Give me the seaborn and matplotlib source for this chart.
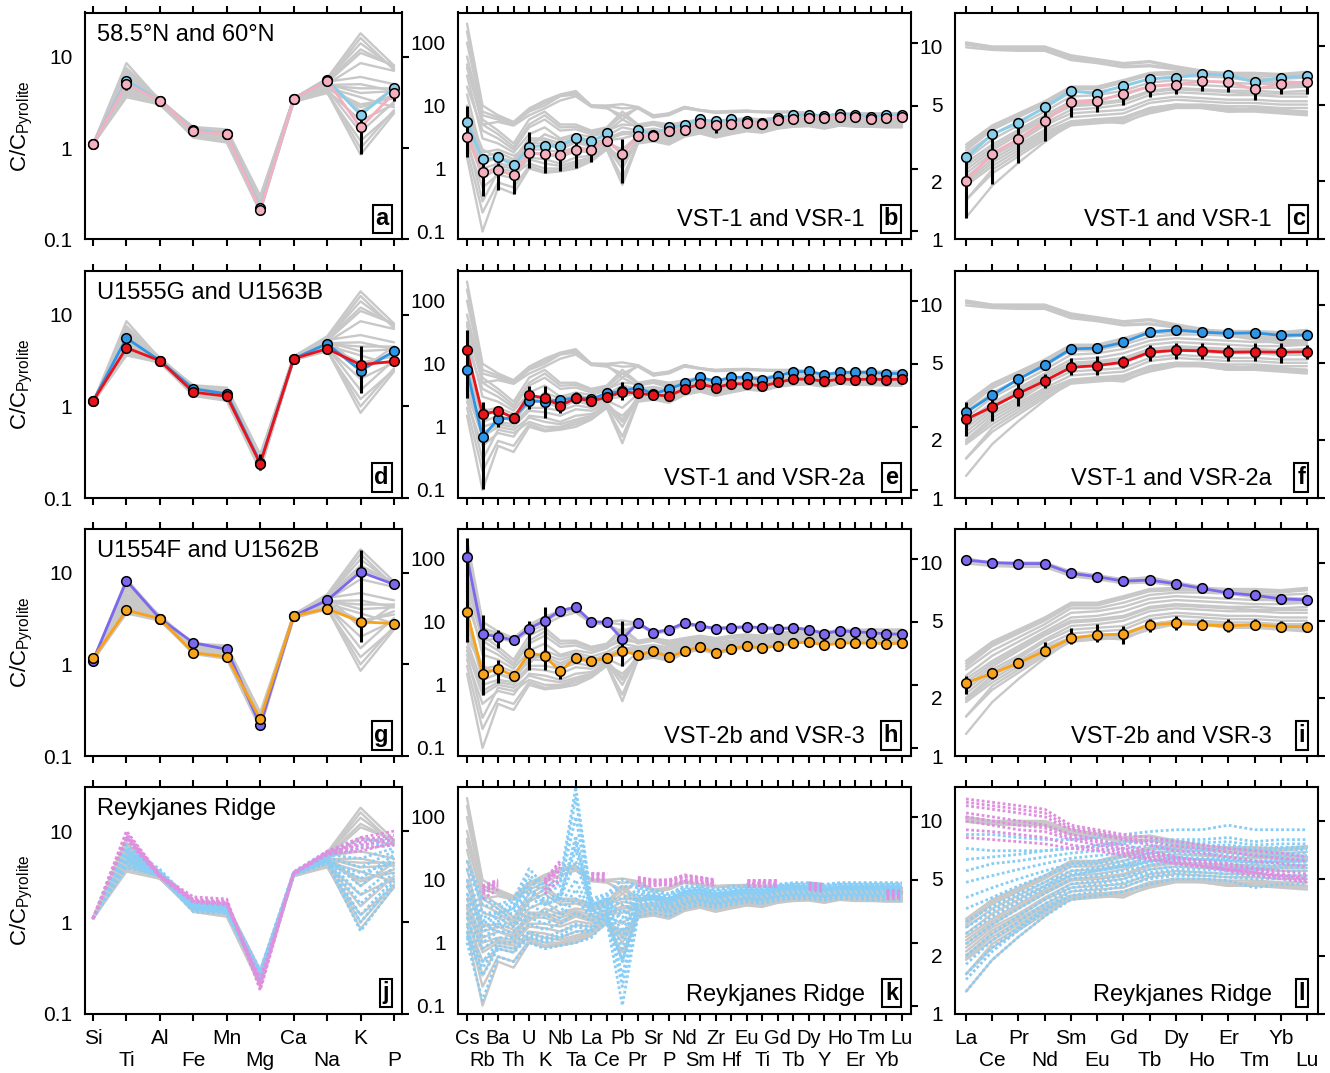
import numpy as np
import pandas as pd
import matplotlib
matplotlib.use("Agg")
import matplotlib.pyplot as plt
import seaborn as sns
from matplotlib.ticker import FixedLocator, NullLocator, FixedFormatter

# ---------------- categories ----------------
MAJOR = ["Si", "Ti", "Al", "Fe", "Mn", "Mg", "Ca", "Na", "K", "P"]
TRACE = ["Cs", "Rb", "Ba", "Th", "U", "K", "Nb", "Ta", "La", "Ce", "Pb", "Pr", "Sr", "P",
         "Nd", "Sm", "Zr", "Hf", "Eu", "Ti", "Gd", "Tb", "Dy", "Y", "Ho", "Er", "Tm", "Yb", "Lu"]
REE = ["La", "Ce", "Pr", "Nd", "Sm", "Eu", "Gd", "Tb", "Dy", "Ho", "Er", "Tm", "Yb", "Lu"]
N = np.nan

# ---------------- grey background (model compositions) ----------------
grey_major = [
    [1.1, 8.5, 3.3, 1.70, 1.60, 0.30, 3.5, 5.8, 18.0, 8.0],
    [1.1, 7.5, 3.4, 1.65, 1.55, 0.28, 3.5, 5.5, 14.0, 7.5],
    [1.1, 6.5, 3.3, 1.60, 1.50, 0.26, 3.4, 5.2, 11.0, 8.0],
    [1.1, 5.8, 3.2, 1.55, 1.45, 0.25, 3.4, 5.0, 8.5, 7.0],
    [1.1, 5.0, 3.2, 1.50, 1.40, 0.24, 3.3, 4.8, 4.5, 4.5],
    [1.1, 4.5, 3.1, 1.45, 1.35, 0.23, 3.3, 4.5, 3.0, 3.5],
    [1.1, 4.0, 3.0, 1.40, 1.30, 0.22, 3.3, 4.3, 2.0, 3.0],
    [1.1, 3.6, 3.0, 1.35, 1.20, 0.21, 3.2, 4.0, 1.2, 2.5],
    [1.1, 3.8, 3.1, 1.30, 1.15, 0.20, 3.2, 4.1, 0.85, 2.4],
    [1.1, 5.5, 3.3, 1.50, 1.40, 0.22, 3.4, 5.6, 2.5, 4.5],
    [1.1, 4.8, 3.2, 1.40, 1.30, 0.24, 3.4, 4.6, 3.6, 2.8],
    [1.1, 6.0, 3.3, 1.55, 1.45, 0.27, 3.5, 5.3, 6.0, 5.0],
    [1.1, 4.2, 3.1, 1.35, 1.25, 0.21, 3.3, 4.4, 1.5, 3.2],
    [1.1, 7.0, 3.4, 1.60, 1.50, 0.27, 3.5, 5.4, 12.0, 7.8],
    [1.1, 5.2, 3.2, 1.50, 1.40, 0.24, 3.4, 4.9, 5.0, 4.2],
    [1.1, 4.4, 3.1, 1.45, 1.35, 0.22, 3.3, 4.5, 2.8, 3.8],
    [1.1, 3.9, 3.0, 1.35, 1.20, 0.21, 3.2, 4.2, 1.0, 2.6],
    [1.1, 5.3, 3.3, 1.50, 1.45, 0.25, 3.4, 5.0, 4.0, 4.2],
    [1.1, 6.8, 3.3, 1.60, 1.50, 0.28, 3.5, 5.5, 16.0, 7.2],
]
grey_trace = [
    [200, 10, 7, 5.5, 9, 12, 15, 17, 10, 10, 10.5, 9.5, 7, 7.5, 9.5, 8.5, 8, 8.2, 8.3, 8, 8, 8, 7.6, 6.6, 7.2, 7, 6.9, 6.5, 6.5],
    [100, 7, 6, 5, 8, 10, 14, 15, 10, 9.5, 6, 9.5, 6.5, 7.5, 9.5, 8.5, 7.8, 8, 8.2, 8, 7.8, 8, 7.5, 6.5, 7.2, 6.9, 6.8, 6.4, 6.3],
    [40, 5, 5.5, 4.8, 7, 9, 12, 14, 9.5, 9, 7, 9, 6.5, 7, 9, 8.3, 7.6, 7.8, 8, 7.8, 7.7, 7.8, 7.4, 6.4, 7, 6.8, 6.7, 6.3, 6.2],
    [150, 8, 6.5, 5.2, 8.5, 11, 14.5, 16, 10, 9.8, 9, 9.2, 6.8, 7.3, 9.3, 8.4, 7.9, 8.1, 8.2, 7.9, 7.9, 7.9, 7.5, 6.5, 7.1, 6.9, 6.8, 6.4, 6.4],
    [30, 3, 2.5, 1.8, 3.5, 4.5, 3, 3.5, 3.2, 3.8, 6, 4.5, 5, 4.2, 5, 5.5, 5, 5.5, 5.8, 5.5, 6.2, 6.8, 7, 6.5, 7.2, 7.2, 7.3, 7.3, 7.3],
    [15, 1.5, 1.8, 1.4, 3.0, 3.0, 2.5, 3.0, 2.5, 3.0, 3.8, 3.8, 4.0, 3.6, 4.5, 5.0, 4.5, 4.8, 5.2, 5.0, 5.5, 6.0, 6.2, 5.8, 6.3, 6.3, 6.2, 6.3, 6.3],
    [5, 1.0, 1.2, 1.1, 2.0, 2.0, 1.8, 2.2, 2.0, 2.6, 2.0, 3.3, 3.4, 3.2, 4.0, 4.6, 4.2, 4.5, 4.8, 4.7, 5.2, 5.6, 5.8, 5.5, 6.0, 5.9, 5.9, 5.9, 5.9],
    [2.5, 0.5, 0.8, 0.7, 1.5, 1.4, 1.2, 1.5, 1.6, 2.2, 1.0, 2.8, 3.0, 2.8, 3.6, 4.2, 3.8, 4.0, 4.4, 4.3, 4.8, 5.2, 5.3, 5.0, 5.4, 5.3, 5.3, 5.2, 5.2],
    [1.5, 0.1, 0.5, 0.4, 1.0, 0.85, 0.9, 1.0, 1.3, 2.0, 0.55, 2.5, 2.7, 2.4, 3.2, 3.6, 3.1, 3.5, 3.9, 3.7, 4.3, 4.6, 4.7, 4.3, 4.8, 4.6, 4.6, 4.5, 4.5],
    [60, 6, 4, 2.5, 6, 8, 5, 5, 4, 4.5, 8, 5, 5.5, 5, 5.5, 6, 5.5, 6, 6.3, 6, 6.5, 7, 7.2, 6.8, 7.4, 7.4, 7.5, 7.4, 7.4],
    [8, 2, 1.5, 1.2, 2.5, 2.5, 2.0, 2.6, 2.2, 2.8, 3.0, 3.5, 3.8, 3.4, 4.2, 4.8, 4.3, 4.6, 5.0, 4.8, 5.3, 5.8, 6.0, 5.6, 6.1, 6.1, 6.0, 6.0, 6.0],
    [3, 0.3, 0.9, 0.8, 1.2, 1.0, 1.0, 1.2, 1.4, 2.1, 1.5, 2.6, 2.8, 2.6, 3.4, 3.9, 3.4, 3.8, 4.1, 4.0, 4.5, 4.9, 5.0, 4.6, 5.1, 5.0, 4.9, 4.8, 4.8],
    [20, 4, 3, 2, 4.5, 6, 4, 4.2, 3.5, 4, 5, 4.8, 5, 4.5, 5.2, 5.7, 5.2, 5.6, 6.0, 5.7, 6.4, 7.0, 7.2, 6.6, 7.3, 7.3, 7.4, 7.4, 7.4],
    [10, 1.2, 1.5, 1.3, 2.8, 2.8, 2.2, 2.8, 2.3, 2.9, 3.5, 3.6, 3.9, 3.5, 4.4, 4.9, 4.4, 4.7, 5.1, 4.9, 5.4, 5.9, 6.1, 5.7, 6.2, 6.2, 6.1, 6.2, 6.2],
    [4, 0.8, 1.1, 1.0, 1.8, 1.7, 1.5, 1.9, 1.8, 2.4, 1.3, 3.0, 3.2, 3.0, 3.8, 4.4, 4.0, 4.2, 4.6, 4.5, 5.0, 5.4, 5.5, 5.2, 5.7, 5.6, 5.6, 5.5, 5.5],
    [2, 0.2, 0.6, 0.5, 1.1, 0.9, 0.95, 1.1, 1.35, 2.05, 0.7, 2.55, 2.75, 2.5, 3.3, 3.7, 3.2, 3.6, 4.0, 3.8, 4.4, 4.7, 4.8, 4.4, 4.9, 4.8, 4.7, 4.6, 4.6],
    [45, 5, 3.5, 2.2, 5, 7, 4.5, 4.6, 3.8, 4.2, 7, 4.9, 5.2, 4.8, 5.4, 5.9, 5.4, 5.8, 6.2, 5.9, 6.5, 7.1, 7.3, 6.7, 7.4, 7.4, 7.5, 7.5, 7.5],
    [6, 1.8, 2.0, 1.6, 2.2, 3.5, 2.8, 3.2, 2.8, 3.3, 4.5, 4.0, 4.3, 3.9, 4.7, 5.2, 4.7, 5.0, 5.4, 5.2, 5.8, 6.4, 6.6, 6.1, 6.7, 6.7, 6.6, 6.7, 6.7],
    [3.5, 0.7, 1.0, 0.9, 1.4, 1.2, 1.1, 1.3, 1.5, 2.3, 1.2, 2.7, 2.9, 2.7, 3.5, 4.0, 3.5, 3.9, 4.2, 4.1, 4.6, 5.0, 5.1, 4.8, 5.2, 5.1, 5.1, 5.0, 5.0],
]
grey_ree = [
    [10.5, 10.0, 10.0, 10.0, 9.0, 8.6, 8.2, 8.4, 7.9, 7.5, 7.1, 6.9, 6.6, 6.5],
    [10.4, 9.9, 9.8, 9.9, 8.8, 8.5, 8.1, 8.3, 7.8, 7.4, 7.0, 6.8, 6.5, 6.4],
    [10.2, 9.8, 9.7, 9.7, 8.7, 8.3, 7.9, 8.0, 7.7, 7.3, 7.0, 6.8, 6.4, 6.3],
    [9.9, 9.6, 9.5, 9.5, 8.5, 8.2, 7.8, 7.9, 7.6, 7.2, 6.9, 6.6, 6.3, 6.2],
    [3.1, 3.9, 4.5, 5.2, 6.2, 6.2, 6.7, 7.3, 7.4, 7.4, 7.3, 7.3, 7.2, 7.4],
    [3.0, 3.8, 4.4, 5.1, 6.1, 6.1, 6.6, 7.2, 7.3, 7.3, 7.2, 7.2, 7.1, 7.3],
    [2.9, 3.7, 4.3, 5.0, 6.0, 6.0, 6.5, 7.1, 7.2, 7.2, 7.1, 7.0, 7.0, 7.2],
    [2.8, 3.5, 4.1, 4.8, 5.8, 5.8, 6.2, 6.8, 7.0, 7.0, 6.9, 6.8, 6.8, 6.9],
    [2.6, 3.3, 3.9, 4.6, 5.5, 5.6, 5.9, 6.5, 6.7, 6.6, 6.5, 6.4, 6.4, 6.5],
    [2.5, 3.1, 3.7, 4.4, 5.2, 5.3, 5.6, 6.2, 6.4, 6.3, 6.2, 6.1, 6.1, 6.2],
    [2.4, 3.0, 3.6, 4.3, 5.0, 5.1, 5.3, 5.9, 6.1, 6.0, 5.9, 5.9, 5.8, 5.9],
    [2.3, 2.9, 3.5, 4.2, 4.9, 5.0, 5.2, 5.8, 6.0, 5.9, 5.8, 5.7, 5.7, 5.7],
    [2.2, 2.8, 3.3, 4.0, 4.7, 4.8, 5.0, 5.6, 5.8, 5.7, 5.6, 5.6, 5.5, 5.5],
    [2.1, 2.7, 3.2, 3.9, 4.5, 4.6, 4.7, 5.3, 5.5, 5.4, 5.3, 5.3, 5.2, 5.2],
    [2.0, 2.6, 3.1, 3.7, 4.3, 4.4, 4.5, 5.1, 5.3, 5.2, 5.1, 5.1, 5.0, 5.0],
    [1.95, 2.5, 3.0, 3.6, 4.1, 4.2, 4.2, 4.8, 5.0, 4.9, 4.7, 4.8, 4.7, 4.6],
    [1.9, 2.4, 2.9, 3.5, 4.0, 4.1, 4.0, 4.6, 4.9, 4.8, 4.6, 4.7, 4.6, 4.5],
    [1.6, 2.3, 2.8, 3.4, 4.0, 4.1, 4.2, 4.7, 4.9, 4.9, 4.8, 4.7, 4.6, 4.6],
    [1.6, 2.2, 2.7, 3.3, 3.9, 4.0, 4.1, 4.5, 4.8, 4.8, 4.6, 4.6, 4.5, 4.4],
    [1.3, 1.9, 2.5, 3.2, 4.0, 4.2, 4.3, 4.8, 5.0, 5.0, 4.9, 4.9, 4.8, 4.8],
]

# ---------------- row 1: 58.5N / 60N, VST-1 and VSR-1 ----------------
a_blue = [1.11, 5.47, 3.31, 1.58, 1.43, 0.222, 3.45, 5.56, 2.31, 4.51]
a_pink = [1.11, 5.03, 3.31, 1.55, 1.41, 0.212, 3.45, 5.47, 1.68, 3.98]
a_pink_err = {1: (4.3, 5.8), 8: (0.87, 2.6), 9: (3.3, 4.6)}

b_blue = [5.5, 1.39, 1.5, 1.13, 2.2, 2.3, 2.3, 3.07, 2.7, 3.6, N, 4.16, 3.46, 4.5, 4.9,
          6.0, 5.6, 6.0, 5.6, 5.3, 6.4, 7.0, 7.2, 6.8, 7.4, 7.2, 6.6, 7.0, 7.0]
b_pink = [3.2, 0.885, 0.96, 0.78, 1.77, 1.67, 1.65, 2.0, 2.0, 2.78, 1.67, 3.34, 3.34, 4.0, 4.06,
          5.2, 4.9, 5.1, 5.2, 5.1, 5.8, 6.1, 6.4, 6.4, 6.6, 6.6, 6.0, 6.4, 6.6]
b_pink_err = {0: (1.55, 9.8), 1: (0.36, 1.3), 2: (0.46, 1.23), 3: (0.4, 1.02), 4: (1.02, 3.8),
              5: (0.85, 2.1), 6: (0.9, 2.1), 7: (1.02, 2.55), 8: (1.26, 2.55), 9: (2.26, 3.2),
              10: (0.59, 2.9), 11: (2.7, 3.9), 13: (3.4, 4.6), 14: (3.5, 4.7), 16: (3.7, 5.6)}

c_blue = [2.66, 3.5, 4.03, 4.84, 5.9, 5.7, 6.25, 6.8, 6.9, 7.2, 7.1, 6.55, 6.9, 7.0]
c_pink = [2.02, 2.77, 3.33, 4.1, 5.16, 5.2, 5.7, 6.2, 6.35, 6.6, 6.55, 6.0, 6.4, 6.55]
c_pink_err = {0: (1.29, 2.8), 1: (1.94, 3.7), 2: (2.48, 4.25), 3: (3.25, 4.6), 4: (4.33, 5.5),
              5: (4.6, 5.5), 6: (5.0, 6.6), 7: (5.45, 6.7), 8: (5.7, 6.7), 9: (5.9, 6.85),
              10: (5.8, 6.85), 11: (5.3, 6.3), 12: (5.7, 6.7), 13: (5.7, 6.7)}

# ---------------- row 2: U1555G / U1563B, VST-1 and VSR-2a ----------------
d_blue = [1.14, 5.56, 3.15, 1.56, 1.37, 0.243, 3.31, 4.83, 2.45, 3.98]
d_red = [1.14, 4.36, 3.15, 1.43, 1.29, 0.237, 3.31, 4.26, 2.85, 3.1]
d_red_err = {5: (0.2, 0.3), 8: (1.41, 4.6)}

e_blue = [7.9, 0.69, 1.33, 1.39, 2.6, 2.5, 2.67, 2.9, 2.77, 3.4, 3.7, 4.2, 3.3, 4.0, 4.9,
          6.1, 5.25, 6.1, 6.1, 5.6, 6.5, 7.4, 7.6, 6.7, 7.3, 7.3, 7.3, 7.0, 7.0]
e_red = [16.4, 1.57, 1.8, 1.39, 3.2, 2.84, 2.17, 2.84, 2.57, 2.94, 3.6, 3.4, 3.2, 3.1, 4.0,
         4.76, 4.2, 4.8, 4.8, 4.4, 5.06, 5.7, 5.7, 5.25, 5.7, 5.6, 5.7, 5.6, 5.7]
e_err = {0: (2.84, 34), 1: (0.103, 2.5), 2: (1.0, 1.96), 3: (1.2, 1.6), 4: (1.9, 4.5),
         5: (1.4, 4.4), 6: (1.63, 2.67), 7: (2.5, 3.6), 8: (2.3, 3.0), 10: (2.67, 5.2)}

f_blue = [2.77, 3.4, 4.12, 4.87, 5.9, 5.95, 6.37, 7.2, 7.4, 7.2, 7.1, 7.15, 6.93, 6.97]
f_red = [2.55, 2.96, 3.47, 4.03, 4.74, 4.84, 5.04, 5.67, 5.8, 5.77, 5.67, 5.7, 5.67, 5.7]
f_red_err = {0: (2.1, 3.15), 1: (2.5, 3.5), 2: (3.0, 4.1), 3: (3.7, 4.4), 4: (4.3, 5.3),
             5: (4.3, 5.4), 6: (4.7, 5.4), 7: (5.1, 6.2), 8: (5.2, 6.3), 9: (5.2, 6.3),
             10: (5.1, 6.2), 11: (5.1, 6.3), 12: (5.0, 6.3), 13: (5.2, 6.2)}

# ---------------- row 3: U1554F / U1562B, VST-2b and VSR-3 ----------------
g_purple = [1.1, 8.18, 3.16, 1.72, 1.46, 0.216, 3.38, 5.0, 10.2, 7.47]
g_orange = [1.16, 3.9, 3.16, 1.34, 1.21, 0.255, 3.38, 4.06, 2.91, 2.79]
g_err = {8: (1.76, 17.5)}

h_purple = [105, 6.3, 5.8, 5.1, 7.8, 10.4, 15, 17, 10, 9.8, 5.3, 9.6, 6.7, 7.5, 9.6,
            8.6, 7.8, 8.1, 8.3, 8.1, 7.8, 8.0, 7.5, 6.5, 7.2, 6.9, 6.75, 6.4, 6.35]
h_orange = [14.1, 1.5, 1.8, 1.39, 3.2, 2.87, 1.63, 2.7, 2.36, 2.67, 3.5, 2.94, 3.4, 2.76, 3.4,
            4.0, 3.24, 3.75, 4.1, 3.85, 4.14, 4.6, 4.8, 4.25, 4.6, 4.6, 4.6, 4.5, 4.6]
h_err = {0: (4.8, 210), 1: (0.7, 13), 2: (3.9, 7.5), 4: (1.7, 10.2), 5: (1.7, 17),
         6: (1.25, 1.9), 10: (2.0, 10.2)}
h_err2 = {2: (1.06, 2.45)}

i_purple = [10.3, 10.0, 9.88, 9.88, 8.8, 8.45, 8.02, 8.12, 7.77, 7.35, 6.97, 6.78, 6.49, 6.41]
i_orange = [2.39, 2.67, 3.03, 3.49, 4.06, 4.23, 4.26, 4.77, 4.86, 4.76, 4.71, 4.77, 4.67, 4.67]
i_orange_err = {0: (2.1, 2.6), 1: (2.5, 2.8), 3: (3.3, 3.9), 4: (3.8, 4.6), 5: (3.9, 4.8),
                6: (3.8, 4.7), 7: (4.4, 5.1), 8: (4.5, 5.3), 9: (4.5, 5.1), 10: (4.4, 5.1),
                11: (4.5, 5.1), 12: (4.4, 5.0), 13: (4.5, 4.9)}

# ---------------- row 4: Reykjanes Ridge samples ----------------
rr_pink_major = [
    [1.1, 10.0, 3.3, 1.90, 1.80, 0.18, 3.5, 6.0, 8.5, 10.0],
    [1.1, 9.0, 3.2, 1.80, 1.70, 0.20, 3.4, 5.8, 8.0, 9.0],
    [1.1, 8.5, 3.2, 1.70, 1.60, 0.22, 3.4, 5.6, 7.5, 8.5],
    [1.1, 8.0, 3.1, 1.65, 1.55, 0.24, 3.4, 5.5, 6.5, 7.0],
    [1.1, 9.5, 3.3, 1.75, 1.65, 0.19, 3.5, 5.9, 7.0, 8.0],
    [1.1, 8.8, 3.2, 1.75, 1.65, 0.21, 3.4, 5.7, 6.0, 7.5],
]
rr_blue_major = [
    [1.1, 7.0, 3.8, 1.60, 1.50, 0.30, 3.6, 6.0, 8.0, 8.0],
    [1.1, 6.5, 3.6, 1.50, 1.45, 0.27, 3.5, 5.3, 6.5, 7.0],
    [1.1, 6.2, 3.6, 1.60, 1.50, 0.28, 3.5, 5.6, 7.0, 7.5],
    [1.1, 6.0, 3.5, 1.55, 1.45, 0.28, 3.5, 5.5, 5.0, 6.5],
    [1.1, 5.8, 3.5, 1.55, 1.45, 0.27, 3.5, 5.2, 4.0, 6.0],
    [1.1, 5.5, 3.4, 1.50, 1.40, 0.26, 3.4, 5.0, 3.0, 5.5],
    [1.1, 5.2, 3.4, 1.50, 1.40, 0.26, 3.4, 5.0, 2.5, 5.0],
    [1.1, 5.0, 3.3, 1.45, 1.35, 0.25, 3.4, 4.8, 2.0, 4.0],
    [1.1, 4.8, 3.3, 1.40, 1.35, 0.25, 3.4, 4.7, 1.6, 3.5],
    [1.1, 4.6, 3.3, 1.45, 1.35, 0.25, 3.4, 4.7, 1.0, 2.8],
    [1.1, 4.5, 3.2, 1.40, 1.30, 0.24, 3.3, 4.6, 1.2, 3.0],
    [1.1, 4.2, 3.2, 1.35, 1.30, 0.23, 3.3, 4.5, 0.8, 2.5],
    [1.1, 4.0, 3.2, 1.30, 1.25, 0.24, 3.3, 4.4, 3.5, 4.5],
]
rr_pink_trace = [
    [N, 8, 10, N, N, 10, 20, N, 13, 13, N, 11, 10, 10, 12, 11, 10, N, 10, 10, 10, N, 9, 8.5, N, N, N, 7, 7],
    [N, 7.5, 9.5, N, N, 9.5, 18, N, 12.5, 12, N, 10.5, 9.8, 9.8, 11.5, 10.8, 9.8, N, 9.8, 9.8, 9.8, N, 8.8, 8.2, N, N, N, 6.8, 6.8],
    [N, 7, 9, N, N, 8.5, 16, N, 12, 11.5, N, 10, 9.5, 9.5, 11, 10.5, 9.5, N, 9.5, 9.5, 9.5, N, 8.5, 8, N, N, N, 6.5, 6.5],
    [N, 6.5, 8.5, N, N, 9, 14, N, 10.5, 10, N, 9.5, 9, 8, 9.5, 10, 8.5, N, 8.5, 9, 8.5, N, 7.5, 7, N, N, N, 5.5, 5.6],
    [N, 6, 8, N, N, 7, 12, N, 11, 10.5, N, 9, 8.5, 9, 10, 9.5, 9, N, 9, 9, 9, N, 8, 7.5, N, N, N, 6, 6],
    [N, 5, 7, N, N, 6, 10, N, 10, 9.5, N, 8, 8, 8.5, 9, 9, 8, N, 8, 8, 8, N, 7, 6.5, N, N, N, 5, 5.2],
]
rr_blue_trace = [
    [20, 5, 4, 5, 15, 8, 10, 300, 5, 6, 10, 8, 7, 6, 8, 8, 7, 8, 8, 8, 8.5, 9, 9, 8.5, 9, 9, 9, 9, 9],
    [15, 4, 3.5, 4.5, 12, 7, 9, 200, 4.5, 5.5, 8, 7.5, 6.5, 5.8, 7.5, 7.8, 6.8, 7.5, 7.8, 7.5, 8.2, 8.8, 8.8, 8.2, 8.8, 8.8, 8.8, 8.8, 8.8],
    [10, 3, 3, 3.5, 10, 6, 8, 100, 4, 5, 5, 7, 6, 5.5, 7, 7.5, 6.5, 7, 7.5, 7, 8, 8.5, 8.5, 8, 8.5, 8.5, 8.5, 8.5, 8.5],
    [8, 2.5, 3, 4, 8, 4, 5, 50, 4, 5, 2, 5.5, 5.5, 5, 6.5, 7, 6, 6.5, 7, 6.7, 7.3, 7.8, 7.8, 7.3, 7.8, 7.8, 7.8, 7.8, 7.8],
    [6, 2.2, 2.8, 3.5, 7, 4.5, 5.5, 40, 3.8, 4.8, 4, 6.5, 5.8, 5.2, 6.8, 7.2, 6.2, 6.8, 7.2, 7, 7.8, 8.2, 8.2, 7.8, 8.2, 8.2, 8.2, 8.2, 8.2],
    [5, 2, 2.5, 3, 6, 5, 6, 30, 3.5, 4.5, 3, 6, 5.5, 5, 6.5, 7, 6, 6.5, 7, 6.8, 7.5, 8, 8, 7.5, 8, 8, 8, 8, 8],
    [4, 1.8, 2.2, 2.5, 5, 4, 5, 20, 3.2, 4.2, 2.5, 5.5, 5.2, 4.8, 6.2, 6.8, 5.8, 6.2, 6.8, 6.5, 7.2, 7.8, 7.8, 7.2, 7.8, 7.8, 7.7, 7.7, 7.7],
    [3, 1.5, 2, 2, 4, 3, 4, 10, 3, 4, 1.5, 5, 5, 4.5, 6, 6.5, 5.5, 6, 6.5, 6.3, 7, 7.5, 7.5, 7, 7.5, 7.5, 7.5, 7.5, 7.5],
    [2.5, 1.2, 1.8, 1.8, 3, 2.5, 3, 7, 2.8, 3.8, 1.2, 4.8, 4.8, 4.2, 5.8, 6.2, 5.2, 5.8, 6.2, 6, 6.8, 7.2, 7.2, 6.8, 7.2, 7.2, 7.2, 7.2, 7.2],
    [2, 1, 1.5, 1.5, 2.5, 2, 2.5, 5, 2.5, 3.5, 0.8, 4.5, 4.5, 4, 5.5, 6, 5, 5.5, 6, 5.8, 6.5, 7, 7, 6.5, 7, 7, 7, 7, 7],
    [1.8, 0.8, 1.2, 1.2, 2, 1.6, 2, 3, 2.2, 3.2, 0.5, 4, 4.2, 3.8, 5, 5.5, 4.6, 5.2, 5.6, 5.4, 6, 6.5, 6.5, 6, 6.5, 6.5, 6.5, 6.5, 6.5],
    [1.5, 0.5, 1, 1, 1.5, 1.2, 1.5, 2, 1.8, 3, 0.3, 3.5, 4, 3.5, 4.5, 5, 4.3, 4.8, 5.2, 5, 5.6, 6, 6, 5.6, 6, 6, 6, 6, 6],
    [1.3, 0.4, 0.9, 0.8, 1.3, 1.1, 1.3, 1.8, 1.6, 2.8, 0.2, 3.2, 3.7, 3.2, 4.2, 4.7, 4.1, 4.6, 5, 4.8, 5.4, 5.7, 5.7, 5.4, 5.7, 5.7, 5.6, 5.6, 5.6],
    [1.2, 0.3, 0.8, 0.7, 1.2, 1, 1.2, 1.5, 1.5, 2.6, 0.5, 3, 3.5, 3, 4, 4.5, 4, 4.4, 4.8, 4.6, 5.2, 5.5, 5.5, 5.2, 5.5, 5.5, 5.4, 5.4, 5.4],
    [1, 0.12, 0.6, 0.5, 1, 0.8, 0.9, 1, 1.2, 2.2, 0.1, 2.6, 3, 2.6, 3.5, 4, 3.6, 4, 4.4, 4.2, 4.7, 5, 5, 4.7, 5, 5, 4.8, 4.8, 4.8],
]
rr_pink_ree = [
    [13.0, 12.5, 12.0, 11.5, 9.5, 9.0, 8.5, 8.2, 7.8, 7.5, 7.2, 7.0, 6.8, 6.5],
    [12.5, 12.0, 11.5, 11.0, 9.2, 8.8, 8.2, 7.8, 7.4, 7.2, 6.9, 6.6, 6.4, 6.2],
    [12.0, 11.5, 11.0, 10.5, 9.0, 8.5, 8.0, 7.5, 7.0, 6.8, 6.5, 6.2, 6.0, 5.8],
    [11.0, 10.5, 10.0, 9.5, 8.5, 8.0, 7.5, 7.0, 6.5, 6.2, 6.0, 5.7, 5.5, 5.3],
    [10.5, 10.0, 9.5, 9.2, 8.2, 7.8, 7.2, 6.8, 6.4, 6.1, 5.8, 5.6, 5.3, 5.1],
    [10.0, 9.5, 9.0, 8.8, 8.0, 7.5, 7.0, 6.6, 6.2, 5.9, 5.6, 5.4, 5.1, 4.9],
    [9.0, 8.8, 8.5, 8.2, 7.5, 7.2, 6.8, 6.4, 6.0, 5.8, 5.5, 5.2, 5.0, 4.8],
    [8.2, 8.0, 7.8, 7.6, 7.2, 7.0, 6.6, 6.3, 6.0, 5.8, 5.6, 5.4, 5.2, 5.0],
]
rr_blue_ree = [
    [8.5, 8.5, 8.2, 8.0, 8.0, 8.2, 8.5, 8.8, 9.0, 9.0, 9.5, 9.0, 9.0, 9.0],
    [7.2, 7.0, 7.0, 7.0, 7.2, 7.5, 7.8, 8.0, 8.0, 8.0, 8.2, 7.8, 8.0, 8.0],
    [6.3, 6.5, 6.7, 7.0, 7.2, 7.4, 7.6, 7.8, 7.8, 7.7, 7.8, 7.5, 7.6, 7.6],
    [5.5, 6.0, 6.2, 6.5, 6.8, 7.0, 7.2, 7.4, 7.5, 7.4, 7.5, 7.2, 7.3, 7.3],
    [4.8, 5.2, 5.6, 6.0, 6.4, 6.6, 6.8, 7.1, 7.2, 7.1, 7.2, 7.0, 7.1, 7.1],
    [4.0, 4.5, 5.0, 5.5, 6.0, 6.2, 6.5, 6.8, 7.0, 6.9, 6.9, 6.7, 6.8, 6.8],
    [3.5, 4.0, 4.6, 5.2, 5.8, 6.0, 6.2, 6.6, 6.8, 6.7, 6.7, 6.5, 6.6, 6.6],
    [3.0, 3.6, 4.2, 4.8, 5.5, 5.7, 6.0, 6.3, 6.5, 6.4, 6.4, 6.2, 6.3, 6.3],
    [2.8, 3.4, 4.0, 4.6, 5.3, 5.5, 5.8, 6.2, 6.4, 6.3, 6.3, 6.1, 6.2, 6.2],
    [2.6, 3.2, 3.8, 4.5, 5.2, 5.5, 5.8, 6.1, 6.3, 6.3, 6.2, 6.0, 6.1, 6.1],
    [2.3, 2.9, 3.5, 4.2, 5.0, 5.2, 5.5, 5.9, 6.1, 6.0, 6.0, 5.8, 5.9, 5.9],
    [2.0, 2.6, 3.2, 3.9, 4.7, 4.9, 5.2, 5.6, 5.8, 5.8, 5.7, 5.6, 5.7, 5.7],
    [1.8, 2.4, 3.0, 3.7, 4.5, 4.7, 5.0, 5.4, 5.6, 5.6, 5.5, 5.4, 5.5, 5.5],
    [1.6, 2.2, 2.8, 3.5, 4.3, 4.5, 4.8, 5.2, 5.4, 5.4, 5.3, 5.2, 5.2, 5.2],
    [1.5, 2.1, 2.7, 3.4, 4.1, 4.3, 4.6, 5.0, 5.2, 5.2, 5.1, 5.0, 5.0, 5.0],
    [1.3, 1.9, 2.5, 3.2, 3.9, 4.1, 4.3, 4.7, 5.0, 5.0, 4.9, 4.5, 4.7, 4.7],
]

# ---------------- texts ----------------
row_titles = ["58.5°N and 60°N", "U1555G and U1563B", "U1554F and U1562B", "Reykjanes Ridge"]
pair_titles = ["VST-1 and VSR-1", "VST-1 and VSR-2a", "VST-2b and VSR-3", "Reykjanes Ridge"]
letters = [["a", "b", "c"], ["d", "e", "f"], ["g", "h", "i"], ["j", "k", "l"]]

# ---------------- colours ----------------
GREY = "#c8c8c8"
LBLUE = "#87ceeb"
PINK = "#f4b0bf"
BLUE = "#2e95e6"
RED = "#e8141c"
PURPLE = "#7b68ee"
ORANGE = "#f7a21b"
RR_PINK = "#df8fdf"
RR_BLUE = "#87cdf5"

sns.set_style("ticks")
plt.rcParams["font.family"] = ["Liberation Sans", "DejaVu Sans"]
plt.rcParams["mathtext.fontset"] = "custom"
plt.rcParams["mathtext.rm"] = "Liberation Sans"
plt.rcParams["mathtext.it"] = "Liberation Sans:italic"
plt.rcParams["axes.linewidth"] = 1.5
for k in ["text.color", "axes.labelcolor", "xtick.color", "ytick.color", "axes.edgecolor"]:
    plt.rcParams[k] = "black"


def long_df(lines):
    rows = []
    uid = 0
    for li in lines:
        open_seg = False
        for i, v in enumerate(li):
            if v is None or (isinstance(v, float) and np.isnan(v)):
                if open_seg:
                    uid += 1
                    open_seg = False
                continue
            rows.append((uid, i, float(v)))
            open_seg = True
        uid += 1
    return pd.DataFrame(rows, columns=["unit", "pos", "val"])


def draw_lines(ax, lines, color, lw, ls="-", z=1):
    df = long_df(lines)
    sns.lineplot(data=df, x="pos", y="val", units="unit", estimator=None, sort=False,
                 color=color, lw=lw, linestyle=ls, ax=ax, zorder=z, legend=False)


def draw_means(ax, series, errs):
    for vals, col in series:
        draw_lines(ax, [vals], col, 2.0, z=5)
    for err in errs:
        for i, (lo, hi) in err.items():
            ax.vlines(i, lo, hi, color="black", lw=2.2, zorder=6)
    for vals, col in series:
        df = pd.DataFrame({"pos": np.arange(len(vals)), "val": vals}).dropna()
        sns.scatterplot(data=df, x="pos", y="val", color=col, edgecolor="black",
                        linewidth=1.1, s=48, ax=ax, zorder=7, legend=False)


fig = plt.figure(figsize=(13.3, 10.73), dpi=100)
W, H = 1330.0, 1073.0
col_px = [(85, 402), (458, 911), (955, 1318)]
row_px = [(12.5, 239.5), (270.5, 498), (528.5, 756), (787, 1013.5)]

col_cats = [MAJOR, TRACE, REE]
col_grey = [grey_major, grey_trace, grey_ree]
col_ylim = [(0.1, 30.4), (0.0746, 300), (1.0, 15.0)]
col_yticks = [[0.1, 1, 10], [0.1, 1, 10, 100], [1, 2, 5, 10]]
col_ytl = [["0.1", "1", "10"], ["0.1", "1", "10", "100"], ["1", "2", "5", "10"]]
col_xpad = [0.24, 0.58, 0.42]
col_xfs = [15, 14.5, 15]

means = [
    [([a_blue, LBLUE], [a_pink, PINK]), ([b_blue, LBLUE], [b_pink, PINK]), ([c_blue, LBLUE], [c_pink, PINK])],
    [([d_blue, BLUE], [d_red, RED]), ([e_blue, BLUE], [e_red, RED]), ([f_blue, BLUE], [f_red, RED])],
    [([g_purple, PURPLE], [g_orange, ORANGE]), ([h_purple, PURPLE], [h_orange, ORANGE]), ([i_purple, PURPLE], [i_orange, ORANGE])],
]
errors = [
    [[a_pink_err], [b_pink_err], [c_pink_err]],
    [[d_red_err], [e_err], [f_red_err]],
    [[g_err], [h_err, h_err2], [i_orange_err]],
]
rr_blue = [rr_blue_major, rr_blue_trace, rr_blue_ree]
rr_pink = [rr_pink_major, rr_pink_trace, rr_pink_ree]

for r in range(4):
    for c in range(3):
        x0, x1 = col_px[c]
        y0, y1 = row_px[r]
        ax = fig.add_axes([x0 / W, 1 - y1 / H, (x1 - x0) / W, (y1 - y0) / H])
        cats = col_cats[c]
        draw_lines(ax, col_grey[c], GREY, 1.7, z=1)
        if r < 3:
            s1, s2 = means[r][c]
            draw_means(ax, [tuple(s1), tuple(s2)], errors[r][c])
        else:
            draw_lines(ax, rr_blue[c], RR_BLUE, 2.0, ls=(0, (1.0, 0.9)), z=2)
            draw_lines(ax, rr_pink[c], RR_PINK, 2.0, ls=(0, (1.0, 0.9)), z=3)

        ax.set_yscale("log")
        ax.set_ylim(*col_ylim[c])
        ax.set_xlim(-col_xpad[c], len(cats) - 1 + col_xpad[c])
        ax.yaxis.set_major_locator(FixedLocator(col_yticks[c]))
        ax.yaxis.set_major_formatter(FixedFormatter(col_ytl[c]))
        ax.yaxis.set_minor_locator(NullLocator())
        even = list(range(0, len(cats), 2))
        odd = list(range(1, len(cats), 2))
        ax.xaxis.set_major_locator(FixedLocator(even))
        ax.xaxis.set_minor_locator(FixedLocator(odd))
        ax.xaxis.set_major_formatter(FixedFormatter([cats[i] for i in even]))
        ax.xaxis.set_minor_formatter(FixedFormatter([cats[i] for i in odd]))
        ax.tick_params(axis="y", which="major", left=False, right=True, direction="out",
                       length=5, width=1.5, labelsize=15, pad=4, labelleft=True, labelright=False)
        ax.tick_params(axis="y", which="minor", left=False, right=False)
        ax.tick_params(axis="x", which="both", top=True, bottom=True, direction="out",
                       length=5, width=1.5, labelsize=col_xfs[c],
                       labelbottom=(r == 3), labeltop=False)
        ax.tick_params(axis="x", which="major", pad=6)
        ax.tick_params(axis="x", which="minor", pad=22)
        ax.set_xlabel("")
        ax.set_ylabel("")
        for sp in ax.spines.values():
            sp.set_linewidth(1.5)
            sp.set_visible(True)
        if c == 0:
            ax.set_ylabel("C/C$_{\\mathrm{Pyrolite}}$", fontsize=16, labelpad=6)
            ax.text(0.038, 0.95, row_titles[r], transform=ax.transAxes, ha="left", va="top",
                    fontsize=17, zorder=10)
        else:
            ax.annotate(pair_titles[r], xy=(1, 0), xycoords="axes fraction", xytext=(-46, 8),
                        textcoords="offset pixels", ha="right", va="bottom", fontsize=17, zorder=10)
        ax.annotate(letters[r][c], xy=(1, 0), xycoords="axes fraction", xytext=(-13, 9),
                    textcoords="offset pixels", ha="right", va="bottom", fontsize=17,
                    fontweight="bold", zorder=11,
                    bbox=dict(boxstyle="square,pad=0.12", fc="white", ec="black", lw=1.5))

fig.savefig("out.png", dpi=100)
